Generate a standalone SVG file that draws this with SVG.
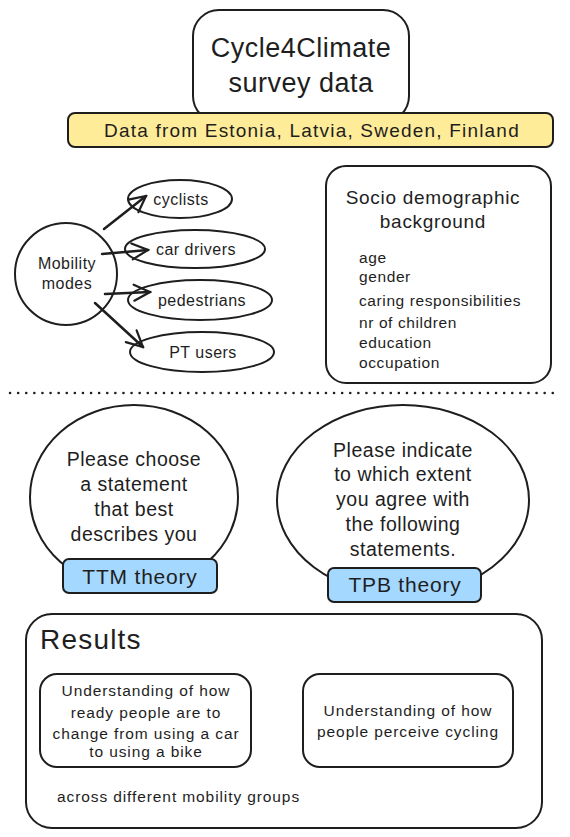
<svg xmlns="http://www.w3.org/2000/svg" width="570" height="837" viewBox="0 0 570 837">
<defs>
<style>
.s{fill:#ffffff;stroke:#1e1e1e;stroke-width:2;}
.t{font-family:"Liberation Sans","DejaVu Sans",sans-serif;fill:#1e1e1e;}
.c{text-anchor:middle;}
.sm{font-size:15.5px;letter-spacing:0.9px;}
.el{font-size:16px;letter-spacing:0.5px;}
.q{font-size:19.5px;letter-spacing:0.5px;}
.conn{stroke:#1e1e1e;stroke-width:2.5;fill:none;stroke-linecap:round;}
</style>
<marker id="ah" viewBox="0 0 20 20" refX="18" refY="10" markerWidth="20" markerHeight="20" markerUnits="userSpaceOnUse" orient="auto">
<path d="M2,2 L18,10 L2,18" fill="none" stroke="#1e1e1e" stroke-width="2.2" stroke-linecap="round"/>
</marker>
</defs>
<rect width="570" height="837" fill="#ffffff"/>

<g id="title">
<rect class="s" x="193" y="10" width="216" height="112" rx="26" stroke-width="2.5"/>
<text class="t c" x="301" y="57" font-size="27" letter-spacing="0.5">Cycle4Climate</text>
<text class="t c" x="301" y="92" font-size="27" letter-spacing="0.5">survey data</text>
</g>

<g id="countries">
<rect x="68" y="113" width="485" height="34" rx="7" fill="#ffec99" stroke="#1e1e1e" stroke-width="2"/>
<text class="t c" x="312" y="137" font-size="19" letter-spacing="1.2">Data from Estonia, Latvia, Sweden, Finland</text>
</g>

<g id="mobility">
<circle class="s" cx="66" cy="274" r="51" stroke-width="1.6"/>
<text class="t c el" x="67" y="269">Mobility</text>
<text class="t c el" x="67" y="289">modes</text>
</g>
<g id="cyclists">
<ellipse class="s" cx="180" cy="199" rx="52" ry="19" stroke-width="1.6"/>
<text class="t c el" x="181" y="205">cyclists</text>
</g>
<g id="cardrivers">
<ellipse class="s" cx="195" cy="249" rx="70" ry="19" stroke-width="1.6"/>
<text class="t c el" x="196" y="255">car drivers</text>
</g>
<g id="pedestrians">
<ellipse class="s" cx="200" cy="300" rx="72" ry="20" stroke-width="1.6"/>
<text class="t c el" x="202" y="306">pedestrians</text>
</g>
<g id="ptusers">
<ellipse class="s" cx="202" cy="352" rx="72" ry="20" stroke-width="1.6"/>
<text class="t c el" x="203" y="358">PT users</text>
</g>

<g id="connectors">
<line class="conn" x1="104" y1="229" x2="146" y2="196" marker-end="url(#ah)"/>
<line class="conn" x1="102" y1="254" x2="148" y2="250" marker-end="url(#ah)"/>
<line class="conn" x1="105" y1="294" x2="150" y2="292" marker-end="url(#ah)"/>
<line class="conn" x1="95" y1="303" x2="143" y2="347" marker-end="url(#ah)"/>
</g>

<g id="socio">
<rect class="s" x="326" y="166" width="225" height="217" rx="20"/>
<text class="t c" x="433" y="204" font-size="19" letter-spacing="0.7">Socio demographic</text>
<text class="t c" x="433" y="228" font-size="19" letter-spacing="0.7">background</text>
<text class="t" x="359" y="263" font-size="15.5" letter-spacing="0.6">age</text>
<text class="t" x="359" y="282" font-size="15.5" letter-spacing="0.6">gender</text>
<text class="t" x="359" y="306" font-size="15.5" letter-spacing="0.6">caring responsibilities</text>
<text class="t" x="359" y="328" font-size="15.5" letter-spacing="0.6">nr of children</text>
<text class="t" x="359" y="348" font-size="15.5" letter-spacing="0.6">education</text>
<text class="t" x="359" y="368" font-size="15.5" letter-spacing="0.6">occupation</text>
</g>

<g id="divider">
<line x1="10" y1="393" x2="560" y2="393" stroke="#1e1e1e" stroke-width="2.5" stroke-dasharray="0.1 8" stroke-linecap="round"/>
</g>

<g id="ttm-question">
<ellipse class="s" cx="134" cy="497" rx="104" ry="92" stroke-width="1.6"/>
<text class="t c q" x="134" y="466">Please choose</text>
<text class="t c q" x="134" y="491">a statement</text>
<text class="t c q" x="134" y="516">that best</text>
<text class="t c q" x="134" y="541">describes you</text>
</g>
<g id="ttm">
<rect x="63" y="559" width="154" height="34" rx="6" fill="#a5d8ff" stroke="#1e1e1e" stroke-width="2"/>
<text class="t c" x="140" y="584" font-size="21" letter-spacing="0.8">TTM theory</text>
</g>

<g id="tpb-question">
<ellipse class="s" cx="403" cy="500" rx="126" ry="95" stroke-width="1.6"/>
<text class="t c q" x="403" y="457">Please indicate</text>
<text class="t c q" x="403" y="481">to which extent</text>
<text class="t c q" x="403" y="506">you agree with</text>
<text class="t c q" x="403" y="531">the following</text>
<text class="t c q" x="403" y="556">statements.</text>
</g>
<g id="tpb">
<rect x="328" y="568" width="153" height="34" rx="6" fill="#a5d8ff" stroke="#1e1e1e" stroke-width="2"/>
<text class="t c" x="405" y="592" font-size="21" letter-spacing="0.8">TPB theory</text>
</g>

<g id="results">
<rect class="s" x="26" y="614" width="516" height="214" rx="26"/>
<text class="t" x="40" y="649" font-size="28" letter-spacing="1.2">Results</text>
<text class="t sm" x="57" y="802" letter-spacing="1">across different mobility groups</text>
</g>
<g id="result-ttm">
<rect class="s" x="40" y="674" width="211" height="93" rx="17" stroke-width="1.6"/>
<text class="t c sm" x="146" y="696">Understanding of how</text>
<text class="t c sm" x="146" y="718">ready people are to</text>
<text class="t c sm" x="146" y="739">change from using a car</text>
<text class="t c sm" x="146" y="757">to using a bike</text>
</g>
<g id="result-tpb">
<rect class="s" x="303" y="674" width="210" height="93" rx="17" stroke-width="1.6"/>
<text class="t c sm" x="408" y="716">Understanding of how</text>
<text class="t c sm" x="408" y="737">people perceive cycling</text>
</g>
</svg>
